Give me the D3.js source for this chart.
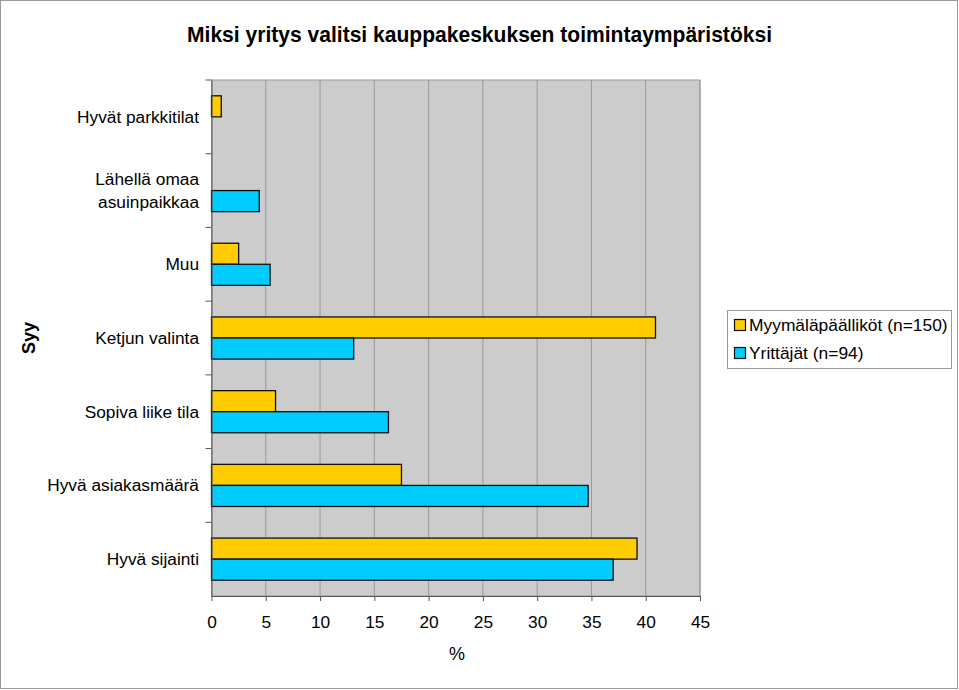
<!DOCTYPE html>
<html><head><meta charset="utf-8">
<script src="https://cdn.jsdelivr.net/npm/d3@7"></script>
<style>body{margin:0;background:#fff;}svg{display:block;font-family:"Liberation Sans",Arial,sans-serif;}</style>
</head><body>
<svg id="c" width="959" height="690"></svg>
<script>
const categories = [["Hyvät parkkitilat"],["Lähellä omaa","asuinpaikkaa"],["Muu"],["Ketjun valinta"],["Sopiva liike tila"],["Hyvä asiakasmäärä"],["Hyvä sijainti"]];
const seriesNames = ["Myymäläpäälliköt (n=150)","Yrittäjät (n=94)"];
const managers = [0.9, 0, 2.5, 40.9, 5.9, 17.5, 39.2];
const entrepreneurs = [0, 4.4, 5.4, 13.1, 16.3, 34.7, 37.0];
const xTicks = [0,5,10,15,20,25,30,35,40,45];
const colors = ["#FFCC00","#00CCFF"];

const svg = d3.select("#c");
svg.append("rect").attr("x",0.5).attr("y",0.5).attr("width",957).attr("height",688).attr("fill","#fff").attr("stroke","#999");

const L=211.5,R=700,T=80,B=596;
const keys = categories.map((c,i)=>i);
const x = d3.scaleLinear().domain([0,45]).range([L,R]);
const y = d3.scaleBand().domain(keys).range([T,B]).paddingInner(0).paddingOuter(0);
const inner = d3.scaleBand().domain([0,1]).range([0,y.bandwidth()]).paddingOuter(0.75).paddingInner(0);

svg.append("rect").attr("x",L).attr("y",T).attr("width",R-L).attr("height",B-T).attr("fill","#CCCCCC").attr("stroke","#999").attr("stroke-width",1);

// gridlines
svg.append("g").selectAll("line").data(xTicks.slice(1)).join("line")
  .attr("x1",d=>x(d)).attr("x2",d=>x(d)).attr("y1",T).attr("y2",B).attr("stroke","#999").attr("stroke-width",1);

// bars
const data = [managers, entrepreneurs];
data.forEach((vals,s)=>{
  svg.append("g").selectAll("rect").data(vals.map((v,i)=>({v,i})).filter(d=>d.v>0)).join("rect")
    .attr("x",x(0)).attr("y",d=>y(d.i)+inner(s)).attr("width",d=>x(d.v)-x(0)).attr("height",inner.bandwidth())
    .attr("fill",colors[s]).attr("stroke","#111").attr("stroke-width",1.3);
});

// axes
const xa = svg.append("g").attr("transform",`translate(0,${B})`)
  .call(d3.axisBottom(x).tickValues(xTicks).tickSize(5).tickSizeOuter(0).tickPadding(14.5));
xa.select(".domain").attr("stroke","#555");
xa.selectAll(".tick line").attr("stroke","#555");
xa.selectAll("text").attr("font-size",17.3).attr("fill","#000").attr("font-family","Liberation Sans, Arial, sans-serif");

const ya = svg.append("g").attr("transform",`translate(${L},0)`)
  .call(d3.axisLeft(y).tickValues([]).tickSizeOuter(0));
ya.select(".domain").attr("stroke","#555");
svg.append("g").selectAll("line").data(keys).join("line")
  .attr("x1",L-6).attr("x2",L).attr("y1",d=>y(d)).attr("y2",d=>y(d)).attr("stroke","#555");

// category labels
const lab = svg.append("g").selectAll("text").data(categories).join("text")
  .attr("text-anchor","end").attr("font-size",17.3).attr("fill","#000")
  .attr("transform",(d,i)=>`translate(199,${y(i)+y.bandwidth()/2})`);
lab.each(function(d){
  const t=d3.select(this);
  const n=d.length, lh=23;
  d.forEach((line,k)=>t.append("tspan").attr("x",0).attr("y",(k-(n-1)/2)*lh).attr("dy","0.35em").text(line));
});

// title
svg.append("text").attr("x",479.5).attr("y",41.5).attr("text-anchor","middle").attr("font-size",22.5).attr("font-weight","bold")
  .attr("textLength",585).attr("lengthAdjust","spacingAndGlyphs").text("Miksi yritys valitsi kauppakeskuksen toimintaympäristöksi");

// axis titles
svg.append("text").attr("transform","translate(35,338) rotate(-90)").attr("text-anchor","middle").attr("font-size",18).attr("font-weight","bold").text("Syy");
svg.append("text").attr("x",457).attr("y",660).attr("text-anchor","middle").attr("font-size",18).text("%");

// legend
const lg = svg.append("g");
lg.append("rect").attr("x",727.5).attr("y",310.5).attr("width",224).attr("height",58).attr("fill","#fff").attr("stroke","#999");
seriesNames.forEach((n,i)=>{
  const cy = 325 + i*28;
  lg.append("rect").attr("x",734.5).attr("y",cy-5.5).attr("width",11).attr("height",11).attr("fill",colors[i]).attr("stroke","#111").attr("stroke-width",1.2);
  lg.append("text").attr("x",749).attr("y",cy).attr("dy","0.35em").attr("font-size",17.4).text(n);
});
</script>
</body></html>
